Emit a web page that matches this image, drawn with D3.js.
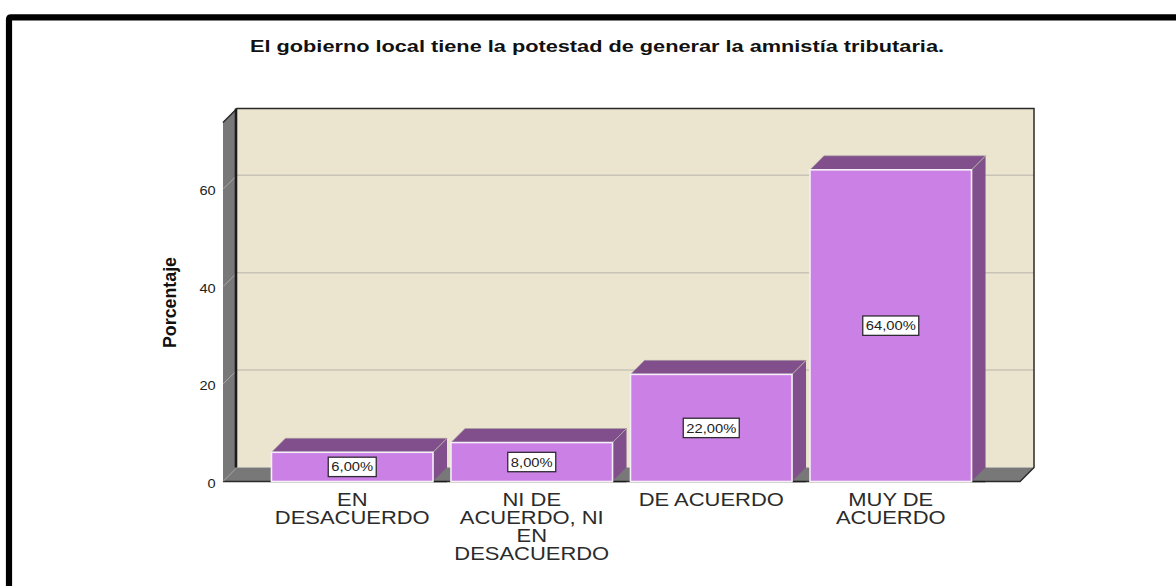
<!DOCTYPE html>
<html><head><meta charset="utf-8">
<script src="https://cdn.jsdelivr.net/npm/d3@7"></script>
<style>html,body{margin:0;padding:0;background:#fff}svg{display:block}text{font-family:"Liberation Sans",Arial,sans-serif}</style>
</head><body><svg id="c" width="1176" height="586"></svg>
<script>
const titleText = "El gobierno local tiene la potestad de generar la amnistía tributaria.";
const yLabel = "Porcentaje";
const categories = ["EN DESACUERDO","NI DE ACUERDO, NI EN DESACUERDO","DE ACUERDO","MUY DE ACUERDO"];
const categoryLines = [["EN","DESACUERDO"],["NI DE","ACUERDO, NI","EN","DESACUERDO"],["DE ACUERDO"],["MUY DE","ACUERDO"]];
const values = [6,8,22,64];
const valueLabels = ["6,00%","8,00%","22,00%","64,00%"];
const yTicks = [0,20,40,60];

const svg = d3.select("#c");
const depth = 14, floorY = 481.5, left = 223, right = 1020, yMax = 73.7;
const y = d3.scaleLinear().domain([0,yMax]).range([floorY, floorY-yMax*4.87]);
const x = d3.scaleBand().domain(categories).range([left,right]).paddingInner(0.1).paddingOuter(0.27);
const pts = a => a.map(p=>p.join(",")).join(" ");
const dark="#787878", wall="#ebe5cf", grid="#c8c3b6", top3d="#804f8c", face="#cb80e6";
const stretched = (parent, cx, by, sx) => parent.append("text")
  .attr("transform",`translate(${cx},${by}) scale(${sx},1)`).attr("text-anchor","middle");

// frame
svg.append("path").attr("d","M9,586V19.5Q9,17.3 11.2,17.3H1176").attr("fill","none").attr("stroke","#000").attr("stroke-width",6.2);

// title
svg.append("text").attr("x",597).attr("y",51.5).attr("text-anchor","middle").attr("font-size",16).attr("font-weight","bold").attr("fill","#111").attr("textLength",694).attr("lengthAdjust","spacingAndGlyphs").text(titleText);

// back wall
const by0=floorY-depth, by1=y(yMax)-depth;
svg.append("rect").attr("x",left+depth).attr("y",by1).attr("width",right-left).attr("height",by0-by1).attr("fill",wall);
// left wall and floor
svg.append("polygon").attr("points",pts([[left,floorY],[left+depth,by0],[left+depth,by1],[left,y(yMax)]])).attr("fill",dark);
svg.append("polygon").attr("points",pts([[left,floorY],[left+depth,by0],[right+depth,by0],[right,floorY]])).attr("fill",dark);
// gridlines
yTicks.filter(d=>d>0).forEach(d=>{
  svg.append("line").attr("x1",left+depth).attr("x2",right+depth).attr("y1",y(d)-depth).attr("y2",y(d)-depth).attr("stroke",grid).attr("stroke-width",1.5);
  svg.append("line").attr("x1",left).attr("x2",left+depth).attr("y1",y(d)).attr("y2",y(d)-depth).attr("stroke","#a8a8a8").attr("stroke-width",1);
});
// outlines
svg.append("path").attr("d",`M${left},${y(yMax)}L${left+depth},${by1}H${right+depth}V${by0}L${right},${floorY}H${left}`).attr("fill","none").attr("stroke","#2a2a2a").attr("stroke-width",1.5);
svg.append("line").attr("x1",left+depth-1).attr("x2",left+depth-1).attr("y1",by1).attr("y2",by0).attr("stroke","#1c1c1c").attr("stroke-width",2.6);
svg.append("line").attr("x1",left).attr("x2",left+depth).attr("y1",floorY).attr("y2",by0).attr("stroke","#999").attr("stroke-width",1);

// bars
const g = svg.append("g");
categories.forEach((c,i)=>{
  const v=values[i], x0=x(c), w=x.bandwidth(), yt=y(v);
  g.append("polygon").attr("points",pts([[x0+w,floorY],[x0+w+depth,floorY-depth],[x0+w+depth,yt-depth],[x0+w,yt]])).attr("fill",top3d);
  g.append("polygon").attr("points",pts([[x0+w,floorY],[x0+w+depth,floorY-depth],[x0+w+depth,floorY]])).attr("fill",dark);
  g.append("line").attr("x1",x0+w).attr("x2",x0+w+depth).attr("y1",floorY).attr("y2",floorY).attr("stroke","#1c1c1c").attr("stroke-width",1.5);
  g.append("polygon").attr("points",pts([[x0,yt],[x0+depth,yt-depth],[x0+w+depth,yt-depth],[x0+w,yt]])).attr("fill",top3d).attr("stroke","#a9a3a0").attr("stroke-width",.6);
  g.append("line").attr("x1",x0+w).attr("y1",yt).attr("x2",x0+w+depth).attr("y2",yt-depth).attr("stroke","#a9a3a0");
  g.append("rect").attr("x",x0).attr("y",yt).attr("width",w).attr("height",floorY-yt).attr("fill",face).attr("stroke","#f4f0f6").attr("stroke-width",1.6);
  // value label
  const cx=x0+w/2, cy=(yt+floorY)/2, bw=valueLabels[i].length>5?56:48;
  g.append("rect").attr("x",cx-bw/2).attr("y",cy-9.7).attr("width",bw).attr("height",19.4).attr("fill","#fff").attr("stroke","#2f2a33").attr("stroke-width",1.3);
  stretched(g,cx,cy+4.6,1.18).attr("font-size",12.5).attr("fill","#222").text(valueLabels[i]);
  // category label
  categoryLines[i].forEach((t,k)=>{
    stretched(g,cx,506+k*18,1.22).attr("font-size",18).attr("fill","#2b2b2b").text(t);
  });
});

// y axis labels
yTicks.forEach(d=>{
  svg.append("text").attr("transform",`translate(215.7,${y(d)+6}) scale(1.17,1)`).attr("text-anchor","end").attr("font-size",12.5).attr("fill","#222").text(d);
});
svg.append("text").attr("transform","translate(176,302.5) rotate(-90)").attr("text-anchor","middle").attr("font-size",19).attr("font-weight","bold").attr("fill","#111").attr("textLength",91).attr("lengthAdjust","spacingAndGlyphs").text(yLabel);
</script></body></html>
